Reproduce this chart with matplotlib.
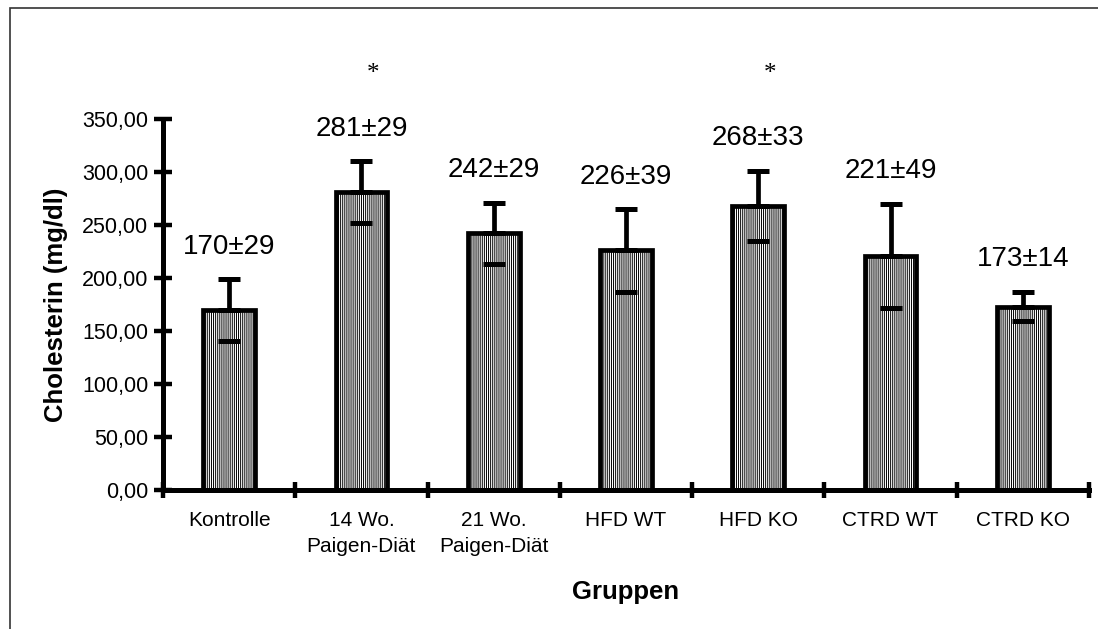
import matplotlib
matplotlib.use("Agg")
import matplotlib.pyplot as plt
from matplotlib.patches import Rectangle
from matplotlib.ticker import FuncFormatter, FixedLocator, NullFormatter

plt.rcParams['font.family'] = ['Liberation Sans', 'DejaVu Sans']
plt.rcParams['hatch.linewidth'] = 0.7

# data
groups = ["Kontrolle", "14 Wo.\nPaigen-Diät", "21 Wo.\nPaigen-Diät",
          "HFD WT", "HFD KO", "CTRD WT", "CTRD KO"]
means = [170, 281, 242, 226, 268, 221, 173]
errors = [29, 29, 29, 39, 33, 49, 14]
significant = [False, True, False, False, True, False, False]
y_ticks = [0, 50, 100, 150, 200, 250, 300, 350]

fig = plt.figure(figsize=(10.98, 6.29), dpi=100)
ax = fig.add_axes([0.14845, 0.22099, 0.84335, 0.58983])

x = list(range(len(groups)))

# bars with fine vertical hatching
ax.bar(x, means, width=0.39, color="white", edgecolor="black",
       linewidth=3.4, hatch="||||||||", zorder=2)

# upper error bars
ax.errorbar(x, means, yerr=[[0] * len(x), errors], fmt="none",
            ecolor="black", elinewidth=3.4, capsize=8.2, capthick=3.6,
            zorder=3)
# lower caps sitting inside the bars
lower = [m - e for m, e in zip(means, errors)]
ax.plot(x, lower, linestyle="none", marker="_", markersize=16.5,
        markeredgewidth=3.6, color="black", zorder=4)

# value labels and asterisks
for xi, m, e, sig in zip(x, means, errors, significant):
    ax.text(xi, m + e + 24, f"{m}±{e}", ha="center", va="baseline",
            fontsize=20, clip_on=False)
    if sig:
        ax.text(xi + 0.09, 392, "*", ha="center", va="center",
                fontsize=18, family=["Liberation Serif", "DejaVu Serif"],
                clip_on=False)

ax.set_xlim(-0.5, len(groups) - 0.5)
ax.set_ylim(0, 350)

# axes look
for side in ["top", "right"]:
    ax.spines[side].set_visible(False)
for side in ["left", "bottom"]:
    ax.spines[side].set_linewidth(3.6)

ax.set_yticks(y_ticks)
ax.yaxis.set_major_formatter(FuncFormatter(lambda v, p: f"{v:.2f}".replace(".", ",")))
ax.tick_params(axis="y", direction="inout", length=13, width=3.2,
               labelsize=15.5, pad=4)

# category boundary ticks (major), labels at centers (minor)
ax.xaxis.set_major_locator(FixedLocator([i - 0.5 for i in range(len(groups) + 1)]))
ax.xaxis.set_major_formatter(NullFormatter())
ax.xaxis.set_minor_locator(FixedLocator(x))
ax.set_xticklabels(groups, minor=True, fontsize=15, linespacing=1.5)
ax.tick_params(axis="x", which="major", direction="inout", length=12, width=3.2)
ax.tick_params(axis="x", which="minor", length=0, pad=15)

ax.set_ylabel("Cholesterin (mg/dl)", fontsize=18.5, fontweight="bold", labelpad=10)
ax.set_xlabel("Gruppen", fontsize=18.5, fontweight="bold")
ax.xaxis.set_label_coords(0.5, -0.2426)

# thin frame around the whole picture (open to the right and bottom)
fig.add_artist(Rectangle((10 / 1098, -0.2), 1.3, 1.2 - 8 / 629,
                         transform=fig.transFigure, fill=False,
                         edgecolor="#333333", linewidth=1.2))

fig.savefig("out.png", dpi=100)
